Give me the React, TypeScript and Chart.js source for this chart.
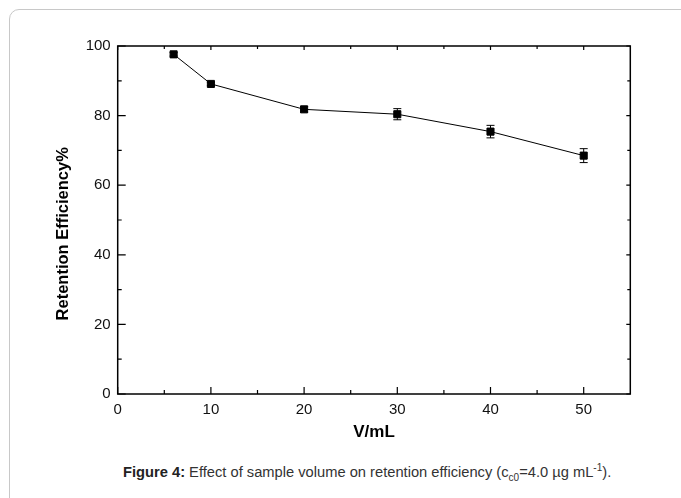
import React, { useEffect, useRef } from "react";
import { Chart, registerables } from "chart.js";

Chart.register(...registerables);

const VOLUMES = [6, 10, 20, 30, 40, 50];
const EFFICIENCY = [97.6, 89.1, 81.8, 80.4, 75.4, 68.5];
const ERRORS = [0.5, 0.5, 0.8, 1.6, 1.8, 2.0];
const X_MAJOR = [0, 10, 20, 30, 40, 50];
const X_MINOR = [5, 15, 25, 35, 45];
const Y_MAJOR = [0, 20, 40, 60, 80, 100];
const Y_MINOR = [10, 30, 50, 70, 90];
const X_TITLE = "V/mL";
const Y_TITLE = "Retention Efficiency%      ";

const FONT = "'Liberation Sans', Arial, Helvetica, sans-serif";

const errorBarPlugin = {
  id: "errorBars",
  beforeDatasetsDraw(chart: any) {
    const { ctx, scales } = chart;
    const x = scales.x;
    const y = scales.y;
    ctx.save();
    ctx.strokeStyle = "#000";
    ctx.lineWidth = 1;
    VOLUMES.forEach((v, i) => {
      const px = x.getPixelForValue(v);
      const t = y.getPixelForValue(EFFICIENCY[i] + ERRORS[i]);
      const b = y.getPixelForValue(EFFICIENCY[i] - ERRORS[i]);
      ctx.beginPath();
      ctx.moveTo(px, t);
      ctx.lineTo(px, b);
      ctx.moveTo(px - 4, t);
      ctx.lineTo(px + 4, t);
      ctx.moveTo(px - 4, b);
      ctx.lineTo(px + 4, b);
      ctx.stroke();
    });
    ctx.restore();
  },
};

const framePlugin = {
  id: "frameTicks",
  afterDraw(chart: any) {
    const { ctx, chartArea, scales } = chart;
    const { left, right, top, bottom } = chartArea;
    const x = scales.x;
    const y = scales.y;
    ctx.save();
    ctx.strokeStyle = "#000";
    ctx.lineWidth = 1.5;
    ctx.strokeRect(left, top, right - left, bottom - top);
    ctx.lineWidth = 1.2;
    ctx.beginPath();
    X_MAJOR.forEach((v) => {
      const px = x.getPixelForValue(v);
      ctx.moveTo(px, bottom);
      ctx.lineTo(px, bottom - 7);
      ctx.moveTo(px, top);
      ctx.lineTo(px, top + 4);
    });
    X_MINOR.forEach((v) => {
      const px = x.getPixelForValue(v);
      ctx.moveTo(px, bottom);
      ctx.lineTo(px, bottom - 4);
      ctx.moveTo(px, top);
      ctx.lineTo(px, top + 3);
    });
    Y_MAJOR.forEach((v) => {
      const py = y.getPixelForValue(v);
      ctx.moveTo(left, py);
      ctx.lineTo(left + 8, py);
      ctx.moveTo(right, py);
      ctx.lineTo(right - 4, py);
    });
    Y_MINOR.forEach((v) => {
      const py = y.getPixelForValue(v);
      ctx.moveTo(left, py);
      ctx.lineTo(left + 4, py);
      ctx.moveTo(right, py);
      ctx.lineTo(right - 3, py);
    });
    ctx.stroke();
    ctx.restore();
  },
};

function ChartView() {
  const ref = useRef<HTMLCanvasElement | null>(null);
  useEffect(() => {
    if (!ref.current) return;
    const chart = new Chart(ref.current, {
      type: "line",
      data: {
        datasets: [
          {
            data: VOLUMES.map((v, i) => ({ x: v, y: EFFICIENCY[i] })),
            borderColor: "#000",
            borderWidth: 1,
            pointStyle: "rect",
            pointRadius: 5,
            pointBorderWidth: 1,
            pointBackgroundColor: "#000",
            pointBorderColor: "#000",
            tension: 0,
            fill: false,
          },
        ],
      },
      options: {
        responsive: false,
        animation: false,
        layout: { padding: { left: 50, top: 46, right: 50.7, bottom: 0 } },
        plugins: { legend: { display: false }, tooltip: { enabled: false } },
        scales: {
          x: {
            type: "linear",
            min: 0,
            max: 55,
            grid: { display: false, drawTicks: false },
            border: { display: false },
            afterBuildTicks: (s: any) => {
              s.ticks = X_MAJOR.map((v) => ({ value: v }));
            },
            afterFit: (s: any) => {
              s.height = 53;
            },
            ticks: {
              padding: 7,
              color: "#111",
              font: { family: FONT, size: 15 },
              maxRotation: 0,
            },
            title: {
              display: true,
              text: X_TITLE,
              color: "#000",
              font: { family: FONT, size: 17, weight: "bold" },
            },
          },
          y: {
            type: "linear",
            min: 0,
            max: 100,
            grid: { display: false, drawTicks: false },
            border: { display: false },
            afterBuildTicks: (s: any) => {
              s.ticks = Y_MAJOR.map((v) => ({ value: v }));
            },
            afterFit: (s: any) => {
              s.width = 67.7;
            },
            ticks: {
              padding: 7,
              color: "#111",
              font: { family: FONT, size: 15 },
            },
            title: {
              display: true,
              text: Y_TITLE,
              color: "#000",
              font: { family: FONT, size: 16.5, weight: "bold" },
            },
          },
        },
      },
      plugins: [errorBarPlugin, framePlugin],
    } as any);
    return () => chart.destroy();
  }, []);
  return (
    <canvas
      ref={ref}
      width={681}
      height={447}
      style={{ position: "absolute", left: 0, top: 0, width: 681, height: 447, display: "block" }}
    />
  );
}

export default function App() {
  return (
    <div
      style={{
        position: "fixed",
        left: 0,
        top: 0,
        width: 681,
        height: 498,
        overflow: "hidden",
        background: "#fff",
        fontFamily: FONT,
      }}
    >
      <div
        style={{
          position: "absolute",
          left: 9,
          top: 9,
          width: 720,
          height: 540,
          border: "1px solid #c8c8c8",
          borderRadius: 10,
          boxSizing: "border-box",
        }}
      />
      <ChartView />
      <div
        style={{
          position: "absolute",
          left: 123,
          top: 459,
          fontSize: 14.7,
          color: "#333",
          whiteSpace: "nowrap",
          lineHeight: "18px",
        }}
      >
        <b style={{ color: "#222" }}>Figure 4:</b> Effect of sample volume on retention efficiency (c
        <sub style={{ fontSize: 10 }}>c0</sub>=4.0 µg mL<sup style={{ fontSize: 10 }}>-1</sup>).
      </div>
    </div>
  );
}
